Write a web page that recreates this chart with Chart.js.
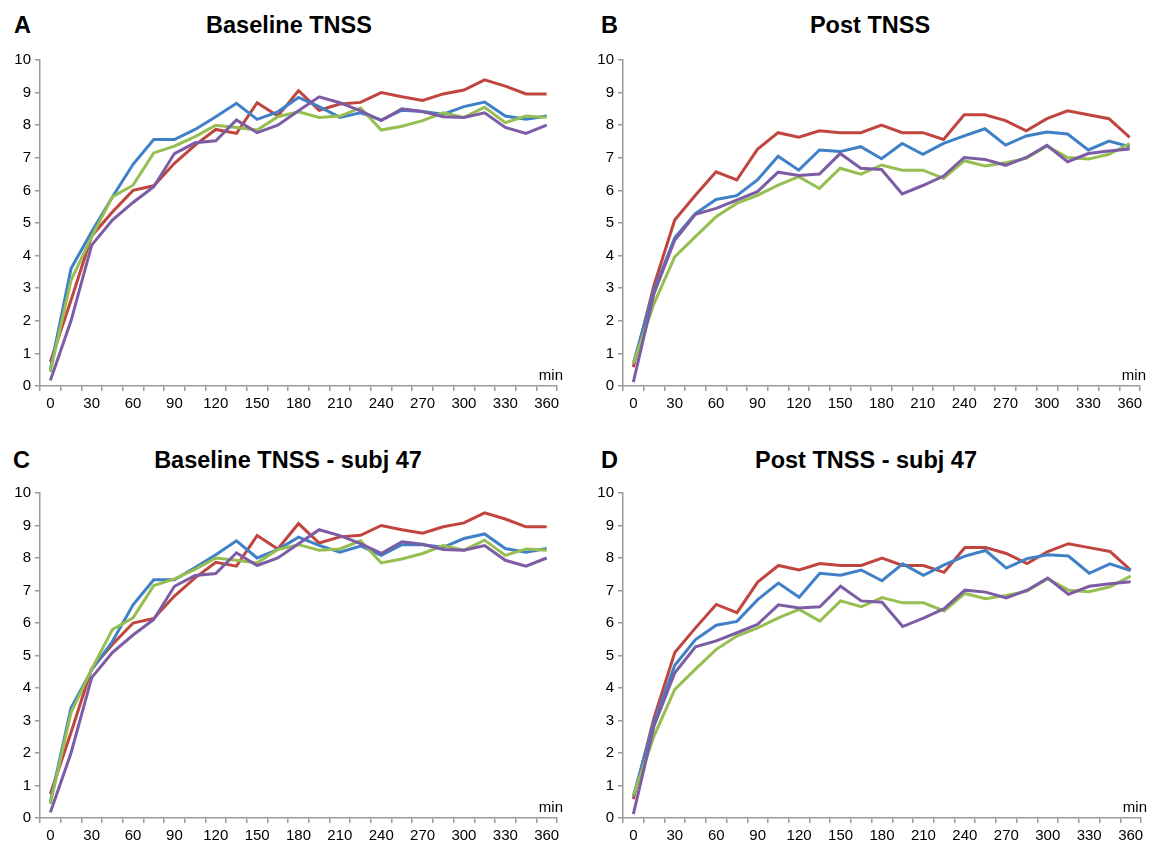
<!DOCTYPE html>
<html>
<head>
<meta charset="utf-8">
<script src="https://cdn.jsdelivr.net/npm/chart.js@4.4.0/dist/chart.umd.min.js"></script>
<style>
  body { margin: 0; background: #fff; font-family: "Liberation Sans", Arial, sans-serif; }
  #wrap { position: relative; width: 1152px; height: 851px; }
  .box { position: absolute; }
  .letter, .title { position: absolute; font-weight: bold; font-size: 23.5px; line-height: 28px; color: #000; white-space: nowrap; }
  .title { text-align: center; width: 500px; }
</style>
</head>
<body>
<div id="wrap">
  <div class="letter" style="left:14px;top:11px">A</div>
  <div class="letter" style="left:601px;top:11px">B</div>
  <div class="letter" style="left:13px;top:446px">C</div>
  <div class="letter" style="left:601px;top:446px">D</div>
  <div class="title" style="left:39px;top:11px">Baseline TNSS</div>
  <div class="title" style="left:620px;top:11px">Post TNSS</div>
  <div class="title" style="left:38px;top:446px">Baseline TNSS - subj 47</div>
  <div class="title" style="left:616px;top:446px">Post TNSS - subj 47</div>

  <div class="box" style="left:0px;top:40px;width:576px;height:385px"><canvas id="chartA"></canvas></div>
  <div class="box" style="left:576px;top:40px;width:576px;height:385px"><canvas id="chartB"></canvas></div>
  <div class="box" style="left:0px;top:473px;width:576px;height:378px"><canvas id="chartC"></canvas></div>
  <div class="box" style="left:576px;top:473px;width:576px;height:378px"><canvas id="chartD"></canvas></div>
</div>
<script>
const minutes = [0, 15, 30, 45, 60, 75, 90, 105, 120, 135, 150, 165, 180,
                 195, 210, 225, 240, 255, 270, 285, 300, 315, 330, 345, 360];

// baseline (panels A and C share red, green, purple)
const baseRed = [0.74, 2.63, 4.6, 5.34, 6.0, 6.14, 6.83, 7.39, 7.87, 7.75, 8.69, 8.28, 9.06,
                 8.46, 8.65, 8.7, 9.0, 8.87, 8.76, 8.96, 9.08, 9.39, 9.2, 8.96, 8.96];
const baseBlue = [0.5, 3.6, 4.73, 5.8, 6.8, 7.56, 7.56, 7.87, 8.26, 8.67, 8.18, 8.41, 8.85,
                  8.57, 8.24, 8.38, 8.16, 8.46, 8.42, 8.34, 8.57, 8.71, 8.28, 8.18, 8.28];
const baseGreen = [0.43, 3.24, 4.58, 5.8, 6.16, 7.15, 7.36, 7.65, 8.0, 7.93, 7.85, 8.26, 8.41,
                   8.24, 8.28, 8.53, 7.85, 7.97, 8.14, 8.38, 8.24, 8.55, 8.08, 8.28, 8.24];
const basePurple = [0.17, 2.0, 4.32, 5.09, 5.63, 6.11, 7.13, 7.46, 7.52, 8.16, 7.77, 8.0, 8.44,
                    8.87, 8.69, 8.44, 8.14, 8.5, 8.42, 8.26, 8.24, 8.38, 7.93, 7.75, 8.0];
const baseBlue47 = [0.5, 3.38, 4.56, 5.43, 6.56, 7.33, 7.33, 7.71, 8.1, 8.53, 8.0, 8.26, 8.64,
                    8.39, 8.18, 8.37, 8.08, 8.41, 8.41, 8.33, 8.6, 8.74, 8.29, 8.18, 8.29];

// post (panels B and D share red, green, purple)
const postRed = [0.58, 3.09, 5.09, 5.85, 6.57, 6.32, 7.26, 7.77, 7.63, 7.83, 7.77, 7.77, 8.0,
                 7.77, 7.77, 7.56, 8.32, 8.32, 8.14, 7.83, 8.2, 8.44, 8.32, 8.2, 7.63];
const postBlue = [0.69, 2.94, 4.55, 5.29, 5.72, 5.84, 6.32, 7.05, 6.62, 7.24, 7.19, 7.34, 6.97,
                  7.44, 7.11, 7.44, 7.67, 7.89, 7.39, 7.67, 7.79, 7.73, 7.24, 7.51, 7.34];
const postGreen = [0.69, 2.53, 3.96, 4.58, 5.19, 5.6, 5.85, 6.16, 6.42, 6.06, 6.68, 6.5, 6.78,
                   6.62, 6.62, 6.37, 6.91, 6.75, 6.85, 6.98, 7.36, 7.01, 6.96, 7.11, 7.44];
const postPurple = [0.12, 2.84, 4.47, 5.27, 5.45, 5.7, 5.96, 6.56, 6.46, 6.5, 7.13, 6.68, 6.64,
                    5.89, 6.15, 6.44, 7.01, 6.95, 6.77, 7.01, 7.38, 6.88, 7.13, 7.21, 7.27];
const postBlue47 = [0.67, 2.95, 4.7, 5.49, 5.93, 6.05, 6.72, 7.23, 6.79, 7.53, 7.47, 7.63, 7.3,
                    7.82, 7.47, 7.79, 8.06, 8.23, 7.69, 7.98, 8.1, 8.06, 7.53, 7.82, 7.61];

const yTicks = [0, 1, 2, 3, 4, 5, 6, 7, 8, 9, 10];

const colors = { red: '#C0453F', blue: '#3F80C6', green: '#96BE50', purple: '#7D5CA6' };
const axisGray = '#9a9a9a';

// "min" unit label at the right end of the x axis
const minLabel = {
    id: 'minLabel',
    afterDraw(chart) {
        const { ctx, chartArea } = chart;
        ctx.save();
        ctx.font = '15px "Liberation Sans", Arial, sans-serif';
        ctx.fillStyle = '#000';
        ctx.textAlign = 'right';
        ctx.textBaseline = 'bottom';
        ctx.fillText('min', chartArea.right + 6, chartArea.bottom - 3);
        ctx.restore();
    }
};

function makePanel(canvasId, red, blue, green, purple, pad, xHeight) {
    const ctx = document.getElementById(canvasId);
    const line = (label, data, color, order) => ({
        label: label,
        data: data,
        borderColor: color,
        backgroundColor: color,
        borderWidth: 3,
        pointRadius: 0,
        tension: 0,
        order: order
    });

    new Chart(ctx, {
        type: 'line',
        data: {
            labels: minutes,
            datasets: [
                line('red', red, colors.red, 3),
                line('blue', blue, colors.blue, 2),
                line('green', green, colors.green, 1),
                line('purple', purple, colors.purple, 0)
            ]
        },
        options: {
            responsive: true,
            maintainAspectRatio: false,
            animation: false,
            layout: { padding: pad },
            plugins: {
                legend: { display: false },
                tooltip: { enabled: false }
            },
            scales: {
                x: {
                    type: 'category',
                    offset: true,
                    grid: {
                        offset: true,
                        drawOnChartArea: false,
                        drawTicks: true,
                        tickLength: 5,
                        color: axisGray,
                        lineWidth: 1.5
                    },
                    border: { color: axisGray, width: 1.5 },
                    ticks: {
                        autoSkip: false,
                        maxRotation: 0,
                        padding: 4,
                        color: '#000',
                        font: { size: 15, family: '"Liberation Sans", Arial, sans-serif' },
                        callback: function (value) {
                            const m = this.getLabelForValue(value);
                            return m % 30 === 0 ? m : '';
                        }
                    },
                    afterFit: (scale) => { scale.height = xHeight; }
                },
                y: {
                    min: 0,
                    max: 10,
                    afterBuildTicks: (scale) => { scale.ticks = yTicks.map(v => ({ value: v })); },
                    grid: {
                        drawOnChartArea: false,
                        tickLength: 5,
                        color: axisGray,
                        lineWidth: 1.5
                    },
                    border: { color: axisGray, width: 1.5 },
                    ticks: {
                        padding: 4,
                        color: '#000',
                        font: { size: 15, family: '"Liberation Sans", Arial, sans-serif' }
                    },
                    afterFit: (scale) => { scale.width = 40; }
                }
            }
        },
        plugins: [minLabel]
    });
}

makePanel('chartA', baseRed, baseBlue, baseGreen, basePurple, { top: 20, right: 19, left: 0, bottom: 0 }, 39);
makePanel('chartB', postRed, postBlue, postGreen, postPurple, { top: 20, right: 12, left: 7, bottom: 0 }, 39);
makePanel('chartC', baseRed, baseBlue47, baseGreen, basePurple, { top: 20, right: 19, left: 0, bottom: 0 }, 33);
makePanel('chartD', postRed, postBlue47, postGreen, postPurple, { top: 20, right: 11, left: 7, bottom: 0 }, 33);
</script>
</body>
</html>
